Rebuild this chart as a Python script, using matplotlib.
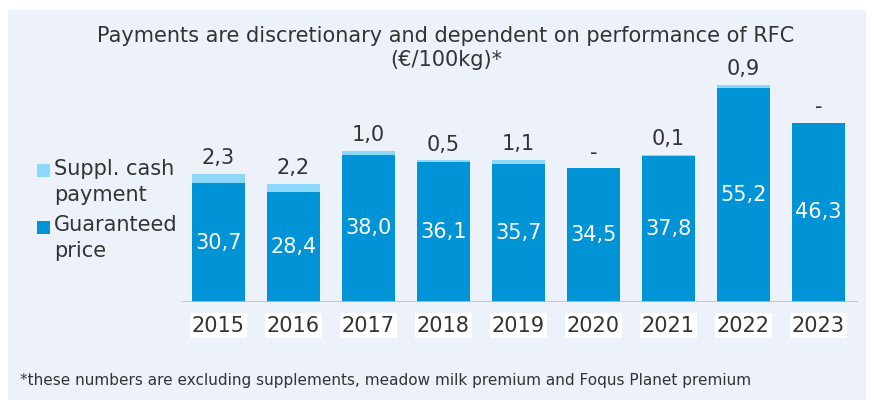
import numpy as np
import matplotlib.pyplot as plt
from matplotlib.patches import Rectangle

years = ["2015", "2016", "2017", "2018", "2019", "2020", "2021", "2022", "2023"]
guaranteed = [30.7, 28.4, 38.0, 36.1, 35.7, 34.5, 37.8, 55.2, 46.3]
suppl = [2.3, 2.2, 1.0, 0.5, 1.1, 0.0, 0.1, 0.9, 0.0]
suppl_labels = ["2,3", "2,2", "1,0", "0,5", "1,1", "-", "0,1", "0,9", "-"]

BG = "#EDF1FA"
DARK = "#0093D6"
LIGHT = "#8DD8F8"
TEXT = "#333333"

plt.rcParams["font.family"] = "DejaVu Sans"

fig = plt.figure(figsize=(8.74, 4.05), dpi=100, facecolor="white")
fig.patches.append(Rectangle((8 / 874, 5 / 405), 858 / 874, 390 / 405,
                             transform=fig.transFigure, facecolor=BG,
                             edgecolor="none", zorder=-10))

ax = fig.add_axes([181 / 874, 103 / 405, 677 / 874, 240 / 405])
ax.set_facecolor("none")
ax.set_zorder(5)

x = np.arange(len(years))
ax.bar(x, guaranteed, width=0.7, color=DARK, zorder=2)
ax.bar(x, suppl, width=0.7, bottom=guaranteed, color=LIGHT, zorder=2)

for i in range(len(years)):
    ax.text(x[i], guaranteed[i] / 2, f"{guaranteed[i]:.1f}".replace(".", ","),
            ha="center", va="center", color="white", fontsize=15)
    ax.text(x[i], guaranteed[i] + suppl[i] + 1.5, suppl_labels[i],
            ha="center", va="bottom", color=TEXT, fontsize=15)
    ax.text(x[i], -3.5, years[i], ha="center", va="top", color=TEXT, fontsize=15,
            bbox=dict(facecolor="white", edgecolor="none", pad=1.5))

ax.set_xlim(-0.5, 8.53)
ax.set_ylim(0, 62)
ax.axhline(0, color="#BFBFBF", linewidth=1.2, zorder=3)
for s in ax.spines.values():
    s.set_visible(False)
ax.set_xticks([])
ax.set_yticks([])

fig.text(446 / 874, 1 - 36 / 405, "Payments are discretionary and dependent on performance of RFC",
         ha="center", va="center", fontsize=15, color=TEXT)
fig.text(446 / 874, 1 - 60 / 405, "(€/100kg)*", ha="center", va="center",
         fontsize=15, color=TEXT)

# legend
fig.patches.append(Rectangle((37 / 874, 1 - 177 / 405), 13 / 874, 13 / 405,
                             transform=fig.transFigure, facecolor=LIGHT, edgecolor="none"))
fig.patches.append(Rectangle((37 / 874, 1 - 234 / 405), 13 / 874, 13 / 405,
                             transform=fig.transFigure, facecolor=DARK, edgecolor="none"))
fig.text(54 / 874, 1 - 169 / 405, "Suppl. cash", va="center", fontsize=15, color=TEXT)
fig.text(54 / 874, 1 - 195 / 405, "payment", va="center", fontsize=15, color=TEXT)
fig.text(54 / 874, 1 - 225 / 405, "Guaranteed", va="center", fontsize=15, color=TEXT)
fig.text(54 / 874, 1 - 251 / 405, "price", va="center", fontsize=15, color=TEXT)

fig.text(20 / 874, 1 - 381 / 405,
         "*these numbers are excluding supplements, meadow milk premium and Foqus Planet premium",
         va="center", fontsize=11, color=TEXT)

fig.savefig("out.png", dpi=100, facecolor="white")
